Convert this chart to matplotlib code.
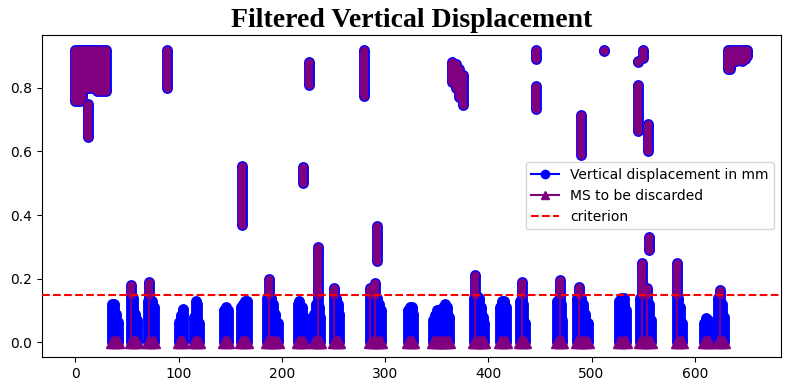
#import libaries
import numpy as np
import matplotlib.pyplot as plt

# criterion for discarding a measuring station (mm)
crit = 0.15

# readings that stay near zero: station position and highest reading (lowest is 0)
low_x = [35, 37, 39, 41,
         54, 56, 58, 60,
         70, 71.5, 74, 76,
         100, 102, 104,
         114.5, 116.5, 118, 119.5,
         144, 146, 148,
         160, 162, 164, 166,
         186, 187.5, 189, 191, 193, 196,
         215.5, 217, 219, 221,
         231, 233, 234.5, 236, 237,
         250.5, 252, 254, 255.5,
         285.5, 288, 290, 292, 294, 296,
         322, 324, 326, 327,
         346, 348, 350, 352, 354, 356, 358, 360, 362,
         386, 387.5, 389, 391, 393, 395, 396,
         411, 413, 415, 417,
         431, 432.5, 434, 436,
         467, 469, 470.5, 471.5,
         486, 487.5, 489.5, 491.5, 494, 497,
         527, 529, 531, 533,
         546.5, 548.5, 551, 553.5, 556, 558,
         582.5, 584, 586, 588,
         609, 611, 613, 614,
         623, 624.5, 626, 628]
low_hi = [0.12, 0.12, 0.09, 0.065,
          0.18, 0.14, 0.09, 0.07,
          0.13, 0.19, 0.13, 0.11,
          0.065, 0.085, 0.105,
          0.08, 0.13, 0.12, 0.06,
          0.10, 0.11, 0.10,
          0.11, 0.12, 0.13, 0.13,
          0.14, 0.20, 0.14, 0.12, 0.09, 0.06,
          0.12, 0.13, 0.11, 0.08,
          0.09, 0.12, 0.30, 0.11, 0.08,
          0.17, 0.14, 0.12, 0.09,
          0.17, 0.14, 0.185, 0.14, 0.12, 0.10,
          0.10, 0.11, 0.11, 0.09,
          0.07, 0.085, 0.10, 0.10, 0.10, 0.11, 0.12, 0.11, 0.08,
          0.14, 0.21, 0.145, 0.14, 0.11, 0.08, 0.06,
          0.11, 0.13, 0.13, 0.11,
          0.13, 0.19, 0.12, 0.06,
          0.13, 0.195, 0.12, 0.07,
          0.14, 0.175, 0.14, 0.12, 0.09, 0.06,
          0.13, 0.14, 0.14, 0.10,
          0.14, 0.25, 0.14, 0.17, 0.12, 0.07,
          0.25, 0.14, 0.11, 0.06,
          0.06, 0.075, 0.07, 0.05,
          0.14, 0.165, 0.12, 0.08]

# readings far above the criterion: station position, lowest and highest reading
top_x = [0, 2, 4, 6, 8, 10, 13, 15, 17, 19, 21, 24, 27, 30,
         12, 89, 161, 220, 226, 280, 292,
         365, 369, 372, 375,
         446, 446, 490, 512,
         545, 545, 550, 555, 556,
         632, 634, 637, 640, 643, 646, 649, 651]
top_lo = [0.76, 0.76, 0.76, 0.77, 0.80, 0.80, 0.80, 0.80, 0.85, 0.85, 0.79, 0.79, 0.79, 0.79,
          0.645, 0.80, 0.37, 0.50, 0.81, 0.775, 0.255,
          0.82, 0.80, 0.77, 0.745,
          0.89, 0.735, 0.59, 0.917,
          0.665, 0.88, 0.895, 0.60, 0.29,
          0.86, 0.86, 0.88, 0.885, 0.89, 0.885, 0.89, 0.90]
top_hi = [0.92, 0.92, 0.92, 0.92, 0.92, 0.92, 0.92, 0.92, 0.92, 0.92, 0.92, 0.92, 0.92, 0.92,
          0.75, 0.92, 0.555, 0.55, 0.88, 0.92, 0.365,
          0.88, 0.875, 0.86, 0.84,
          0.92, 0.805, 0.715, 0.92,
          0.81, 0.885, 0.92, 0.685, 0.33,
          0.92, 0.92, 0.92, 0.92, 0.92, 0.92, 0.92, 0.92]

low_x = np.array(low_x)
low_hi = np.array(low_hi)
low_lo = np.zeros(len(low_x))
# stations of the low group that cross the criterion
over = low_hi > crit


def column(ax, x, lo, hi, color, width):
    # a column of dense readings: thick line with round dots at both ends
    ax.vlines(x, lo, hi, color=color, linewidth=width)
    ax.plot(x, lo, 'o', color=color, markersize=width, markeredgewidth=0, linestyle='none')
    ax.plot(x, hi, 'o', color=color, markersize=width, markeredgewidth=0, linestyle='none')


fig, ax = plt.subplots(figsize=(7.9, 3.9), dpi=100)
fig.subplots_adjust(left=0.053, right=0.9886, top=0.910, bottom=0.085)

# all readings in blue
column(ax, low_x, low_lo, low_hi, 'blue', 7.8)
column(ax, top_x, top_lo, top_hi, 'blue', 7.8)

# discarded readings in purple
ax.vlines(low_x[over], 0, low_hi[over], color='purple', linewidth=1.5)
column(ax, low_x[over], np.full(over.sum(), crit), low_hi[over], 'purple', 5.8)
column(ax, top_x, top_lo, top_hi, 'purple', 5.8)
ax.plot(low_x, low_lo, '^', color='purple', markersize=8.5, linestyle='none')

# criterion
ax.axhline(crit, color='red', linestyle='--', linewidth=1.5, zorder=5)

# legend entries
ax.plot([], [], 'o-', color='blue', label='Vertical displacement in mm')
ax.plot([], [], '^-', color='purple', label='MS to be discarded')
ax.plot([], [], '--', color='red', label='criterion')
ax.legend(loc='center right')

ax.set_title('Filtered Vertical Displacement', fontname='Liberation Serif',
             fontweight='bold', fontsize=20)

plt.savefig('out.png')
